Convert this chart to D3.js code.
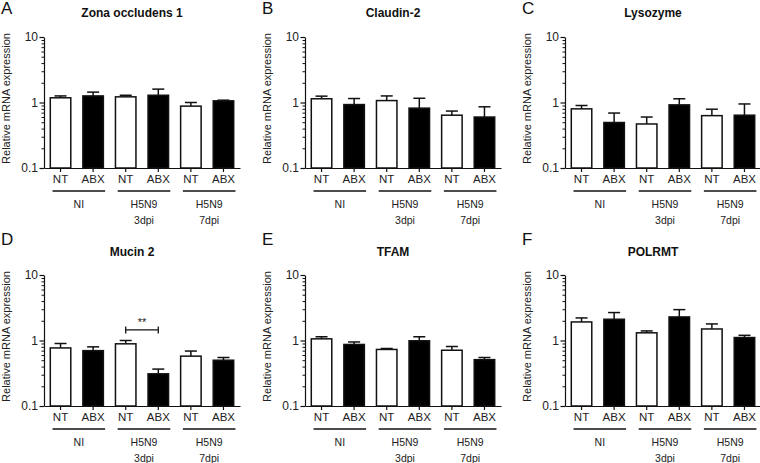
<!DOCTYPE html>
<html>
<head>
<meta charset="utf-8">
<script src="https://cdn.jsdelivr.net/npm/d3@7"></script>
<style>
  html, body { margin: 0; padding: 0; background: #fff; }
  svg { display: block; font-family: "Liberation Sans", Arial, Helvetica, sans-serif; }
</style>
</head>
<body>
<svg id="chart" width="760" height="463"></svg>
<script>
// ---------- data ----------
const panelLetters = ["A", "B", "C", "D", "E", "F"];
const genes = ["Zona occludens 1", "Claudin-2", "Lysozyme", "Mucin 2", "TFAM", "POLRMT"];
const treatments = ["NT", "ABX", "NT", "ABX", "NT", "ABX"];
const groupLabels = [["NI"], ["H5N9", "3dpi"], ["H5N9", "7dpi"]];
const yTickValues = [0.1, 1, 10];
const yTickLabels = ["0.1", "1", "10"];
const yAxisTitle = "Relative mRNA expression";

// mean values (bar heights), per gene, in bar order NI-NT, NI-ABX, 3dpi-NT, 3dpi-ABX, 7dpi-NT, 7dpi-ABX
const meanZO1     = [1.18, 1.26, 1.22, 1.29, 0.88, 1.06];
const meanClaudin = [1.14, 0.93, 1.07, 0.82, 0.64, 0.60];
const meanLyso    = [0.80, 0.495, 0.47, 0.92, 0.63, 0.64];
const meanMucin   = [0.77, 0.70, 0.89, 0.31, 0.577, 0.50];
const meanTFAM    = [1.06, 0.87, 0.73, 0.99, 0.71, 0.51];
const meanPOLRMT  = [1.92, 2.11, 1.31, 2.29, 1.50, 1.11];
// top of error bars (mean + SEM)
const errZO1     = [1.26, 1.44, 1.29, 1.60, 1.00, 1.085];
const errClaudin = [1.25, 1.15, 1.26, 1.16, 0.74, 0.86];
const errLyso    = [0.90, 0.69, 0.60, 1.14, 0.79, 0.95];
const errMucin   = [0.90, 0.80, 1.00, 0.366, 0.69, 0.55];
const errTFAM    = [1.14, 0.95, 0.755, 1.14, 0.81, 0.55];
const errPOLRMT  = [2.21, 2.67, 1.40, 2.96, 1.79, 1.20];
// significance annotation: panel index, bar indices, level, label
const sigPanel = 3, sigBars = [2, 3], sigLevel = 1.45, sigLabel = "**";

const means = [meanZO1, meanClaudin, meanLyso, meanMucin, meanTFAM, meanPOLRMT];
const errs  = [errZO1, errClaudin, errLyso, errMucin, errTFAM, errPOLRMT];

// ---------- layout ----------
const colX = [44, 305, 565];
const rowTop = [37, 275];
const letterBase = [14, 245];
const plotH = 131;
const plotW = 196;
const font = '"Liberation Sans", Arial, Helvetica, sans-serif';

const svg = d3.select("#chart");
const barIds = d3.range(6);

panelLetters.forEach((letter, p) => {
  const col = p % 3, row = Math.floor(p / 3);
  const x0 = colX[col], y0 = rowTop[row];
  const g = svg.append("g");

  const y = d3.scaleLog().domain([0.1, 10]).range([y0 + plotH, y0]);
  const x = d3.scaleBand().domain(barIds).range([x0, x0 + plotW])
    .paddingInner(0.325).paddingOuter(0.17);
  const bw = x.bandwidth();

  // panel letter
  g.append("text").attr("x", col === 0 ? 1 : x0 - 43).attr("y", letterBase[row])
    .attr("font-size", 17).attr("fill", "#111").text(letter);

  // title
  g.append("text").attr("x", x0 + 88).attr("y", y0 - 20 + row)
    .attr("text-anchor", "middle").attr("font-size", 12).attr("font-weight", "bold")
    .attr("fill", "#111").text(genes[p]);

  // y axis with minor ticks
  const minor = [];
  [0.1, 1].forEach(d => { for (let k = 2; k <= 9; k++) minor.push(d * k); });
  g.append("g").attr("transform", `translate(${x0},0)`)
    .call(d3.axisLeft(y).tickValues(minor).tickSize(2.5).tickFormat(""))
    .call(a => a.select(".domain").remove())
    .call(a => a.selectAll("line").attr("stroke", "#111"));
  g.append("g").attr("transform", `translate(${x0},0)`)
    .call(d3.axisLeft(y).tickValues(yTickValues).tickSize(4.5).tickSizeOuter(0)
      .tickFormat((d, i) => yTickLabels[i]))
    .call(a => a.select(".domain").attr("stroke", "#111").attr("stroke-width", 1.2))
    .call(a => a.selectAll("line").attr("stroke", "#111").attr("stroke-width", 1.2))
    .call(a => a.selectAll("text").attr("font-size", 12).attr("font-family", font).attr("fill", "#222").attr("x", -6));

  // y axis title
  g.append("text")
    .attr("transform", `translate(${x0 - 34},${y0 + plotH / 2 - 4}) rotate(-90)`)
    .attr("text-anchor", "middle").attr("font-size", 11).attr("fill", "#222")
    .text(yAxisTitle);

  // x axis
  g.append("g").attr("transform", `translate(0,${y0 + plotH})`)
    .call(d3.axisBottom(x).tickSize(4).tickSizeOuter(0).tickFormat(i => treatments[i]))
    .call(a => a.select(".domain").attr("stroke", "#111").attr("stroke-width", 1.2))
    .call(a => a.selectAll("line").attr("stroke", "#111").attr("stroke-width", 1.2))
    .call(a => a.selectAll("text").attr("font-size", 11.5).attr("font-family", font).attr("fill", "#222").attr("y", 7));

  // error bars
  barIds.forEach(i => {
    const cx = x(i) + bw / 2;
    g.append("line").attr("x1", cx).attr("x2", cx)
      .attr("y1", y(means[p][i])).attr("y2", y(errs[p][i]))
      .attr("stroke", "#111").attr("stroke-width", 1.5);
    g.append("line").attr("x1", cx - 6).attr("x2", cx + 6)
      .attr("y1", y(errs[p][i])).attr("y2", y(errs[p][i]))
      .attr("stroke", "#111").attr("stroke-width", 1.5);
  });

  // bars
  g.selectAll("rect.bar").data(barIds).join("rect").attr("class", "bar")
    .attr("x", i => x(i) + 0.75).attr("width", bw - 1.5)
    .attr("y", i => y(means[p][i]))
    .attr("height", i => y(0.1) - y(means[p][i]))
    .attr("fill", i => i % 2 === 0 ? "#fff" : "#000")
    .attr("stroke", "#111").attr("stroke-width", 1.5);

  // group lines and labels
  groupLabels.forEach((lab, k) => {
    const a = x(2 * k) + 3, b = x(2 * k + 1) + bw + 1;
    const ly = y0 + plotH + 23;
    g.append("line").attr("x1", a).attr("x2", b).attr("y1", ly).attr("y2", ly)
      .attr("stroke", "#111").attr("stroke-width", 1.3);
    lab.forEach((t, j) => {
      g.append("text").attr("x", (a + b) / 2).attr("y", ly + 17 + j * 16)
        .attr("text-anchor", "middle").attr("font-size", 10.5).attr("fill", "#222").text(t);
    });
  });

  // significance bracket
  if (p === sigPanel) {
    const xa = x(sigBars[0]) + bw / 2, xb = x(sigBars[1]) + bw / 2, sy = y(sigLevel);
    g.append("line").attr("x1", xa).attr("x2", xb).attr("y1", sy).attr("y2", sy)
      .attr("stroke", "#111").attr("stroke-width", 1.3);
    [xa, xb].forEach(xx => g.append("line").attr("x1", xx).attr("x2", xx)
      .attr("y1", sy - 3.5).attr("y2", sy + 3.5).attr("stroke", "#111").attr("stroke-width", 1.3));
    g.append("text").attr("x", (xa + xb) / 2).attr("y", sy - 4)
      .attr("text-anchor", "middle").attr("font-size", 11).attr("fill", "#222").text(sigLabel);
  }
});
</script>
</body>
</html>
